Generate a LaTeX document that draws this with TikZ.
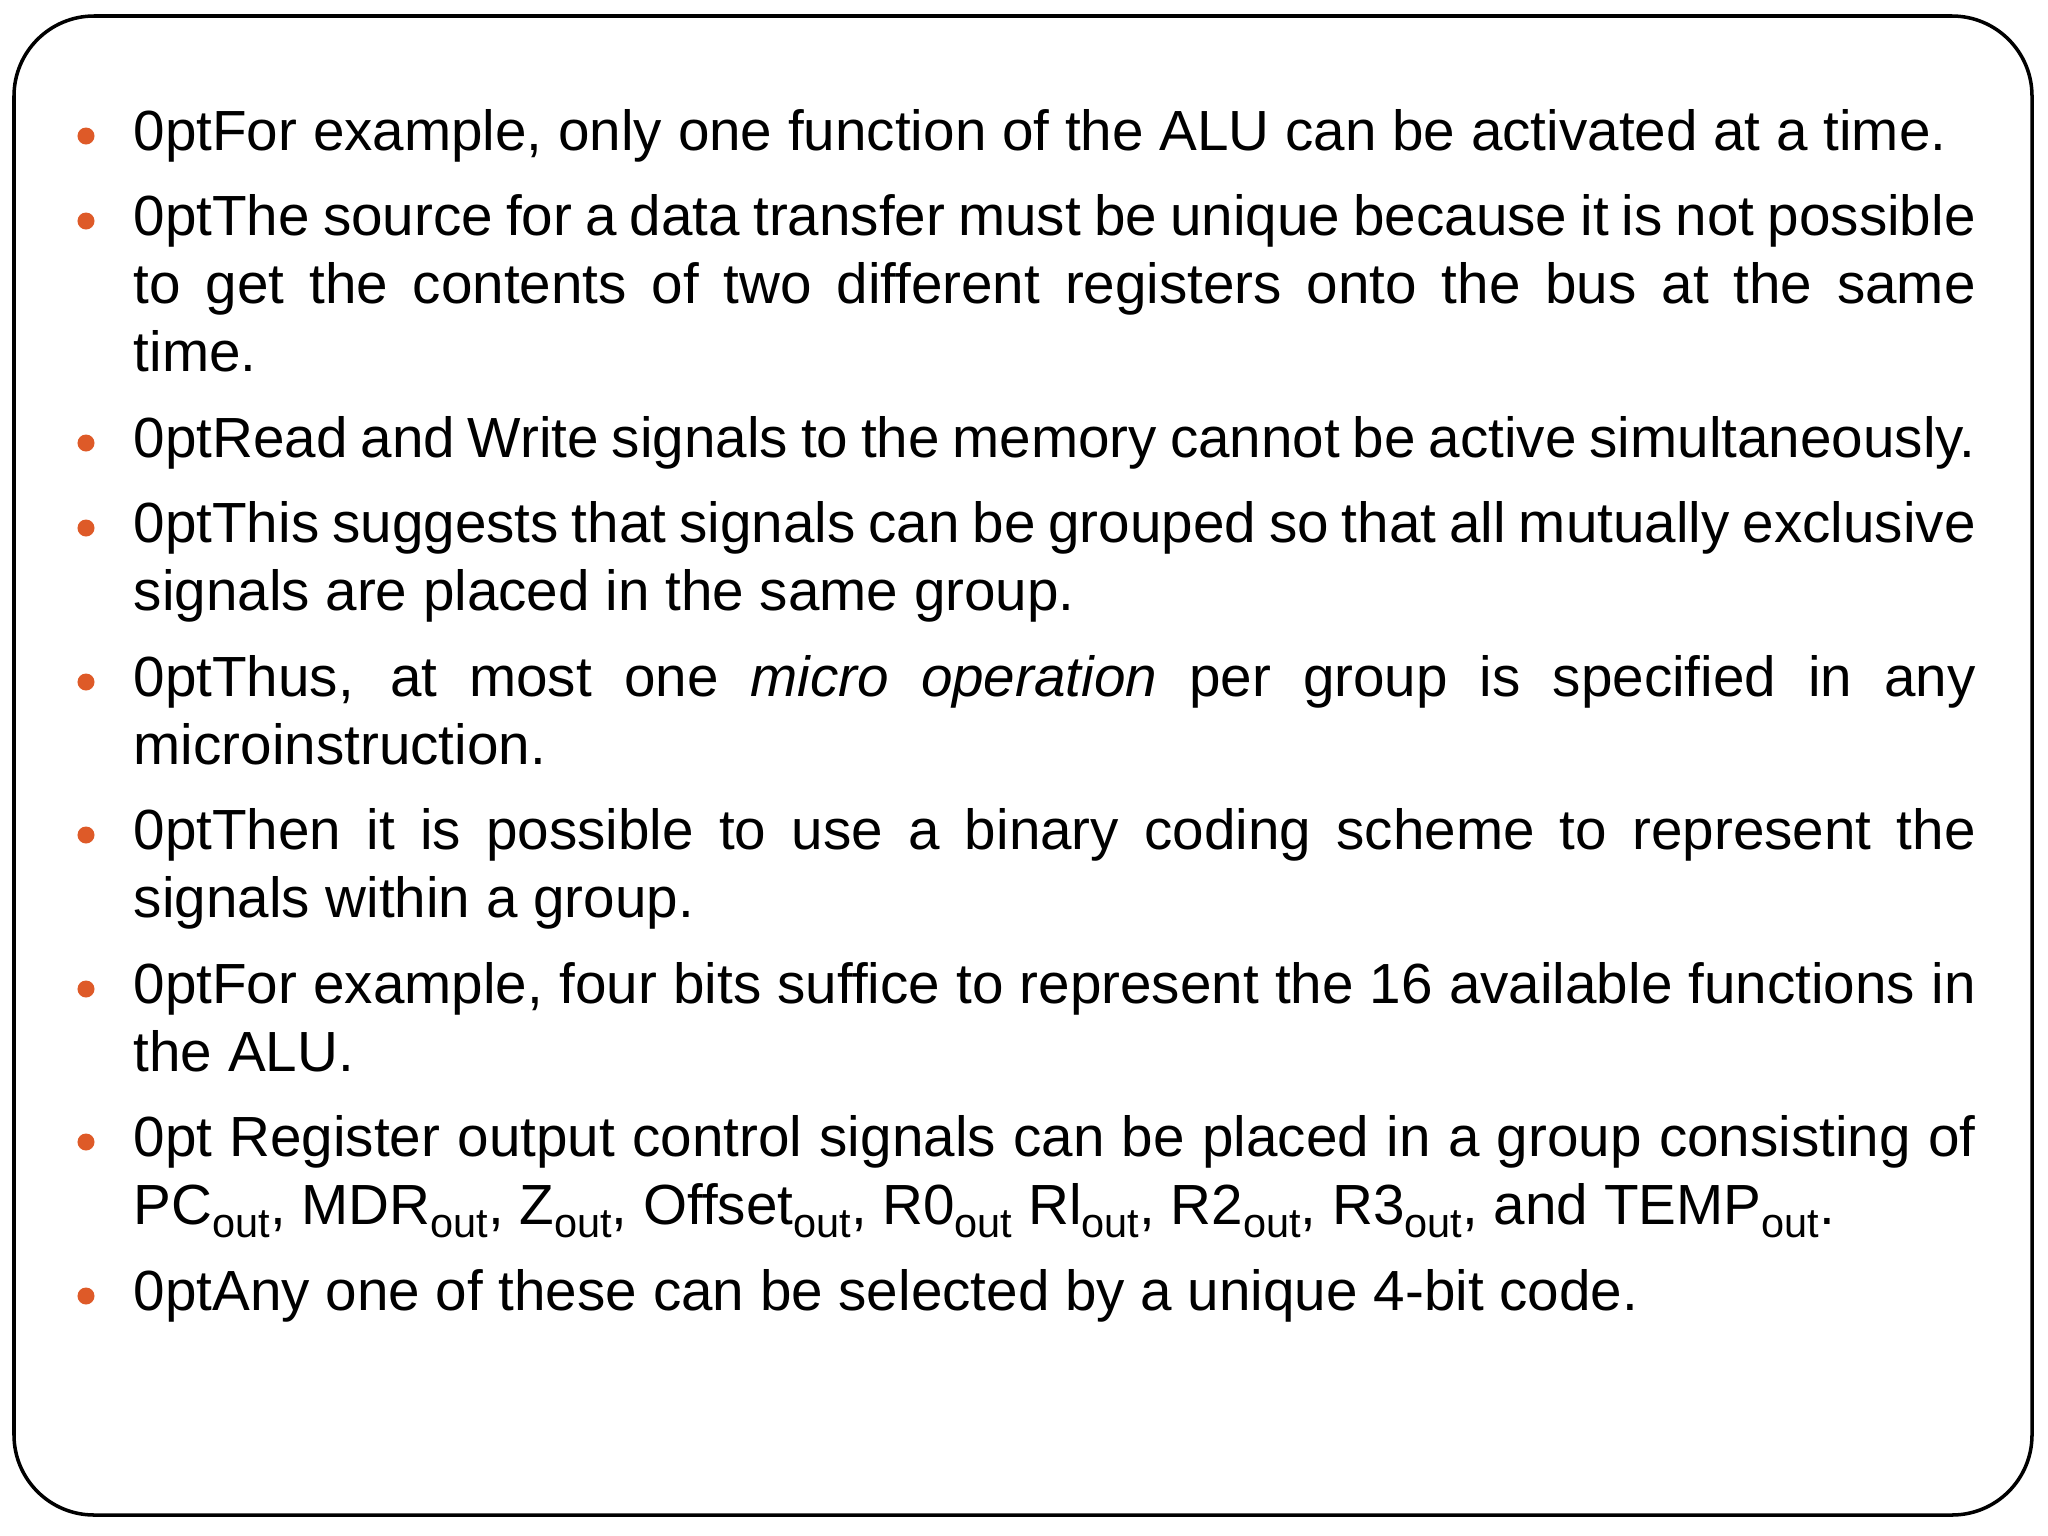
\documentclass[tikz,border=0pt]{standalone}
\usepackage{fontspec}
\setmainfont{Liberation Sans}
\definecolor{bul}{RGB}{222,90,40}
\newcommand\so{\raisebox{-0.45ex}{\fontsize{11.8pt}{12pt}\selectfont out}}
\begin{document}
\begin{tikzpicture}[x=0.01cm,y=-0.01cm,
  item/.style={anchor=north west,inner sep=0pt,text width=18.41cm,align=justify,font=\fontsize{16.1pt}{19.3pt}\selectfont\hyphenpenalty=10000\exhyphenpenalty=10000},
  dot/.style={circle,fill=bul,inner sep=0pt,minimum size=0.17cm}]
\useasboundingbox (0,0) rectangle (2048,1536);
\draw[line width=1pt,rounded corners=0.8cm] (14,16) rectangle (2032,1515);
\foreach \n/\b/\t in {
 1/150/{For example, only one function of the ALU can be activated at a time.},
 2/235/{The source for a data transfer must be unique because it is not possible\linebreak to get the contents of two different registers onto the bus at the same\linebreak time.},
 3/457/{Read and Write signals to the memory cannot be active simultaneously.},
 4/542/{This suggests that signals can be grouped so that all mutually exclusive signals are placed in the same group.},
 5/696/{Thus, at most one \textit{micro operation} per group is specified in any\linebreak microinstruction.},
 6/849/{Then it is possible to use a binary coding scheme to represent the\linebreak signals within a group.},
 7/1003/{For example, four bits suffice to represent the 16 available functions in\linebreak the ALU.},
 8/1156/{\hspace{0.3em}Register output control signals can be placed in a group consisting of PC\so, MDR\so, Z\so, Offset\so, R0\so{} Rl\so, R2\so, R3\so, and TEMP\so.},
 9/1310/{Any one of these can be selected by a unique 4-bit code.}}{
  \node[item] (t\n) at (133,\b-47.6) {\strut\t};
  \node[dot] (d\n) at (86,\b-14) {};
}
\end{tikzpicture}
\end{document}
